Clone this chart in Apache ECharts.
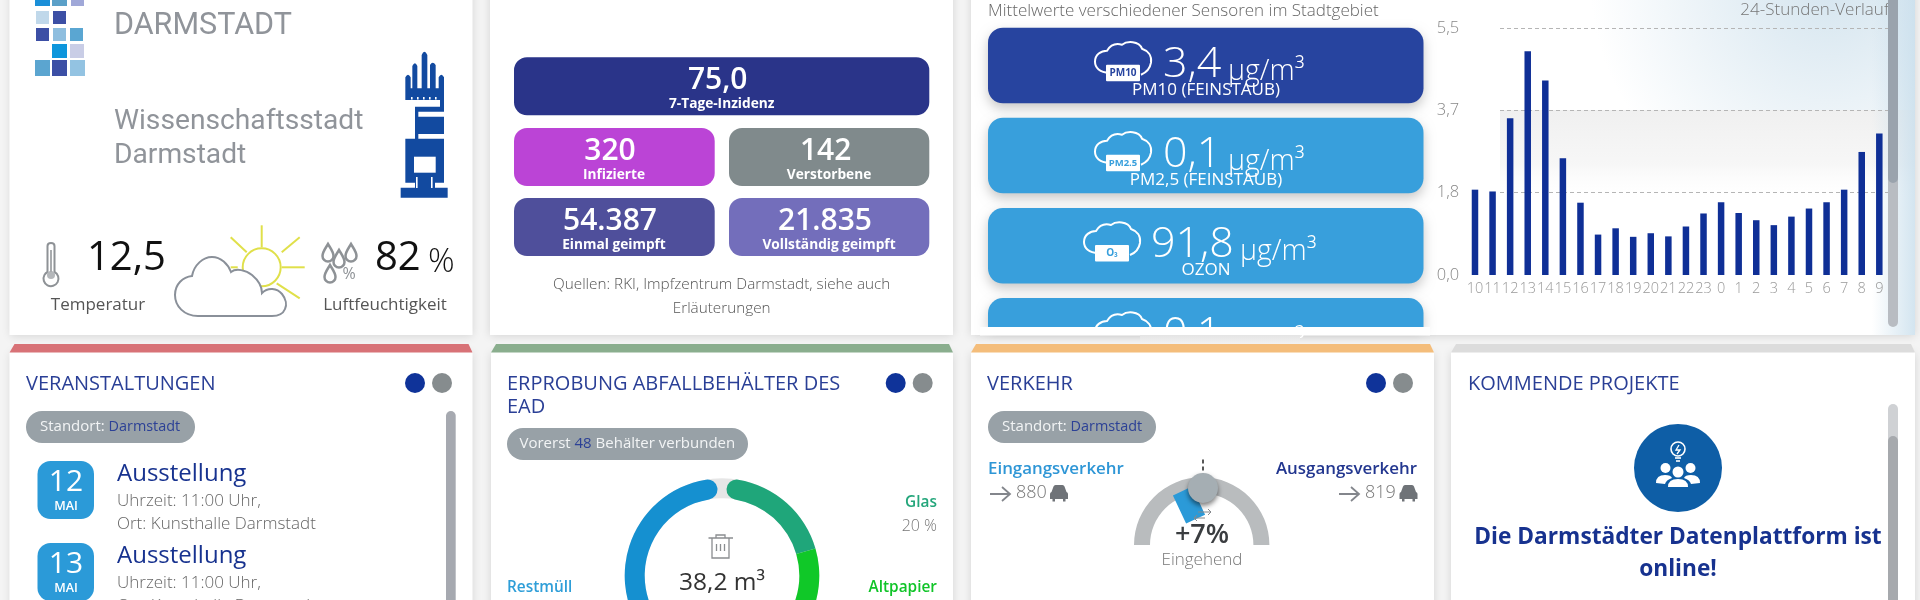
<!DOCTYPE html>
<html lang="de"><head><meta charset="utf-8"><title>Darmstadt Dashboard</title>
<style>html,body{margin:0;padding:0;background:#f4f4f4;overflow:hidden}#c{width:1920px;height:600px}</style>
<script src="https://cdn.jsdelivr.net/npm/echarts@6/dist/echarts.min.js"></script></head>
<body><div id="c"></div>
<script>
const hours = ['10','11','12','13','14','15','16','17','18','19','20','21','22','23','0','1','2','3','4','5','6','7','8','9'];
const airValues = [1.9,1.86,3.49,4.98,4.33,2.6,1.61,0.9,1.04,0.85,0.93,0.86,1.08,1.37,1.62,1.38,1.22,1.11,1.3,1.48,1.62,1.9,2.74,3.15];
const sensorValues = ['3,4','0,1','91,8','0,1'];
const sensorNames = ['PM10 (FEINSTAUB)','PM2,5 (FEINSTAUB)','OZON',''];
const sensorTags = ['PM10','PM2.5','O₃',''];
const wasteNames = ['Glas','Altpapier','Restmüll'];
const wasteShares = [20,35,45];
const trafficBalance = [7];

const F = '"Open Sans"';
const g = [];
let pathCount = 0;
function T(x,y,text,size,color,o){o=o||{};g.push({type:'text',x,y,z:o.z||20,style:{text,fontSize:size,fill:color,fontFamily:o.family||F,fontWeight:o.weight||400,textAlign:o.align||'left',textVerticalAlign:'middle',rich:o.rich}});}
function R(x,y,w,h,fill,r,o){o=o||{};g.push({type:'rect',z:o.z||5,shape:{x,y,width:w,height:h,r:r||0},style:Object.assign({fill},o.style||{})});}
function P(d,o){const name='deco'+(pathCount++);echarts.graphic.registerShape(name,echarts.graphic.extendPath(d));
  g.push({type:name,z:o.z||10,x:o.x||0,y:o.y||0,scaleX:o.s||1,scaleY:o.s||1,style:{fill:o.fill||'none',stroke:o.stroke||'none',lineWidth:o.lw||0}});}
function C(cx,cy,r,fill,o){o=o||{};g.push({type:'circle',z:o.z||10,shape:{cx,cy,r},style:Object.assign({fill},o.style||{})});}
function L(x1,y1,x2,y2,stroke,lw,o){o=o||{};g.push({type:'line',z:o.z||10,shape:{x1,y1,x2,y2},style:{stroke,lineWidth:lw,lineDash:o.dash}});}
function card(x,y,w,h){R(x,y,w,h,'#fff',0,{z:1,style:{shadowBlur:9,shadowColor:'rgba(0,0,0,0.13)',shadowOffsetX:0,shadowOffsetY:1}});}
function strip(x,w,color){g.push({type:'polygon',z:12,shape:{points:[[x+5,344],[x+w-4,344],[x+w,352.5],[x,352.5]]},style:{fill:color}});}
function header(x,text){T(x,384,text,20,'#2a3f96');}
function dots(a,b){C(a,383,10,'#0f3399');C(b,383,10,'#868c8e');}
function badge(x,y,w,a,b,c,fs,fb,dx){fs=fs||15;fb=fb||14.4;dx=dx===undefined?14:dx;R(x,y,w,32,'#98a1a7',16);
  T(x+dx,y+16,'{a|'+a+'}{b|'+b+'}'+(c?'{a|'+c+'}':''),fs,'#fff',{rich:{a:{fill:'#f2f4f5',fontSize:fs,fontFamily:F},b:{fill:'#2c4196',fontSize:fb,fontFamily:F}}});}

/* cards */
card(9.5,-20,463,355);card(490,-20,463,355);card(971,-20,944,355);
card(9.5,352,463,270);card(491,352,462,270);card(971,352,463,270);card(1451,352,464,270);
strip(9.5,463,'#d87277');strip(491,462,'#8aae8e');strip(971,463,'#f4bd7b');strip(1451,464,'#dcdcdc');

/* soft background of the air quality chart */
const rad=(x,y,r,c,a)=>({type:'radial',x,y,r,global:true,colorStops:[{offset:0,color:c},{offset:1,color:a}]});
R(1500,110,415,90,'#eeeeee',0,{z:2,style:{fill:{type:'linear',x:0,y:0,x2:0,y2:1,colorStops:[{offset:0,color:'rgba(236,236,236,0.8)'},{offset:0.6,color:'rgba(243,243,243,0.7)'},{offset:1,color:'rgba(255,255,255,0)'}]}}});
R(1560,0,355,110,'#fff',0,{z:2,style:{fill:rad(1830,-20,240,'rgba(205,224,236,0.85)','rgba(205,224,236,0)')}});
R(1872,0,43,335,'#fff',0,{z:2,style:{fill:{type:'linear',x:0,y:0,x2:1,y2:0,colorStops:[{offset:0,color:'rgba(200,222,236,0)'},{offset:1,color:'rgba(200,222,236,0.8)'}]}}});

/* card 1 */
const squares=[[35,-8,15,14,'#1a8fd8'],[52,-8,15,14,'#5ba0c8'],[71,-8,13,14,'#a0a8d8'],[36,11,13,13,'#c0d8ea'],[53,11,13,13,'#3c4fa5'],[36,28,13,13,'#3c4fa5'],[53,28,13,13,'#8ebedf'],[70,28,13,13,'#5aa6d2'],[52,44,15,14,'#0d96dc'],[70,44,14,14,'#c9cde6'],[35,60,15,16,'#5ba5d0'],[52,60,15,16,'#3c4fa5'],[70,60,15,16,'#93c3e2']];
squares.forEach(s=>R(s[0],s[1],s[2],s[3],s[4]));
T(114,-10,'DIGITALSTADT',31,'#90949a',{family:'Roboto'});
T(114,26,'DARMSTADT',30.5,'#90949a',{family:'Roboto'});
T(114,122,'Wissenschaftsstadt',28.2,'#90949a',{family:'Roboto'});
T(114,156,'Darmstadt',28.2,'#90949a',{family:'Roboto'});
P('M1216 300V232Q1224 216 1232 232V265H1237V198Q1245 182 1252 198V265H1265V165Q1273 145 1282 165V265H1290V195Q1298 182 1307 195V265H1316V232Q1324 216 1332 232V335H1255V350H1332V402H1255V416H1332V548H1305V563H1343V593H1202V563H1245V548H1216V416H1245V320H1320V300Z',{s:1/3,fill:'#124aa0'});
R(414,156.7,21.7,16,'#fff',0,{z:11});
R(416,177,1.6,11,'#fff',0,{z:11});R(431,177,1.6,11,'#fff',0,{z:11});
[0,1,2,3,4].forEach(i=>R(411+i*6,97,1.6,2.5,'#fff',0,{z:11}));
/* thermometer */
P('M47.5 272V246Q47.5 243 51 243T54.5 246V272A7.5 7.5 0 1 1 47.5 272Z',{fill:'#fff',stroke:'#8e9296',lw:2});
C(51,275,4,'#b4b7ba',{z:11});L(51,250,51,272,'#a8abae',2,{z:11});
T(87,259,'12,5',40,'#111');
T(98,305,'Temperatur',17,'#555',{align:'center'});
/* sun and cloud */
[[0,-42,0,-20],[20,-15,38,-30],[20,0,43,0],[15,16,38,31],[-15,-15,-31,-30],[-31,0,-24,0]].forEach(a=>L(261.7+a[0],267.3+a[1],261.7+a[2],267.3+a[3],'#e0e04a',2));
C(261.7,267.3,19,'#fff',{style:{stroke:'#e0e04a',lineWidth:2}});
P('M198 316C184 316 175 306 175 295C175 284 183 277 192 276C194 265 203 257 212 257C221 257 228 264 231 272C236 268 246 270 252 275C258 280 262 286 262 293C268 287 277 288 282 294C286 299 287 305 285 309C283 314 278 316 272 316Z',{fill:'#fff',stroke:'#8a9099',lw:2,z:12});
/* humidity */
[[328,253],[339,259],[351,253],[330,274]].forEach(d=>P('M0 -9C3 -4 5.5 -1 5.5 3A5.5 5.5 0 0 1 -5.5 3C-5.5 -1 -3 -4 0 -9Z',{x:d[0],y:d[1],fill:'#fff',stroke:'#8e9296',lw:2.5}));
T(349,274,'%',16,'#8e9296',{align:'center'});
T(375,259,'82',40,'#111');
T(428,263,'%',33,'#111',{weight:300});
T(385,305,'Luftfeuchtigkeit',17,'#555',{align:'center'});

/* card 2 */
const tiles=[[514,57.3,415.3,'#2a3489','75,0','7-Tage-Inzidenz',717.7,721.7],[514,128,200.7,'#bb44d6','320','Infizierte',610,614],[729,128,200.3,'#808a8c','142','Verstorbene',825.7,829],[514,198,200.7,'#4f4f9b','54.387','Einmal geimpft',610,614],[729,198,200.3,'#736ebb','21.835','Vollständig geimpft',825,829]];
tiles.forEach(t=>{R(t[0],t[1],t[2],58,t[3],13);T(t[6],t[1]+23,t[4],30,'#fff',{weight:600,align:'center'});T(t[7],t[1]+47,t[5],13.7,'#fff',{weight:700,align:'center'});});
T(721.7,285,'Quellen: RKI, Impfzentrum Darmstadt, siehe auch',15.3,'#555',{weight:300,align:'center'});
T(721.7,309,'Erläuterungen',15.3,'#555',{weight:300,align:'center'});

/* card 3 sensors */
T(988,11,'Mittelwerte verschiedener Sensoren im Stadtgebiet',17,'#666',{weight:300});
const boxTops=[27.7,117.7,208,298], boxColors=['#27449f','#389fdc','#389fdc','#389fdc'], cloudX=[1095,1095,1084,1095], valX=[1163,1163,1151,1163], unitX=[1228,1228,1240,1228];
boxTops.forEach((y,i)=>{
  const last=i===3;
  R(988,y,435.5,last?29:75.6,boxColors[i],last?[15,15,0,0]:15,{z:5,style:{shadowBlur:12,shadowOffsetY:5,shadowColor:'rgba(0,0,0,0.22)'}});
  P(last?'M0 20C0 13 6 9 12 9C15 4 20 1 27 3C32 -1 44 -1 47 7C53 9 57 14 56 21':'M14 31C5 31 0 26 0 20C0 13 6 9 12 9C15 4 20 1 27 3C32 -1 44 -1 47 7C53 9 57 14 56 21C55 27 51 31 46 33',{x:cloudX[i],y:y+14,stroke:'#fff',lw:2,z:6});
  if(!last){
    R(cloudX[i]+11,y+37,34,16.5,'#fff',1,{z:7});
    T(cloudX[i]+28,y+45.5,sensorTags[i],i==1?9.5:10,boxColors[i],{weight:700,align:'center',z:8});
    T(1206,y+62,sensorNames[i],17,'#fff',{align:'center',z:8});
  }
  T(valX[i],y+37,sensorValues[i],43,'#fff',{weight:300,z:8});
  T(unitX[i],y+44,'µg/m³',28.5,'#fff',{weight:300,z:8});
});
/* the sensor list scrolls: hide what lies below its lower edge */
R(980,327,450,8.5,'#fff',0,{z:9});
R(1140,335,160,9,'#f1f1f1',0,{z:9,style:{fill:{type:'linear',x:0,y:0,x2:0,y2:1,colorStops:[{offset:0,color:'#e4e4e4'},{offset:1,color:'#f2f2f2'}]}}});
R(1140,352.5,160,8,'#fff',0,{z:9});
T(1889,10,'24-Stunden-Verlauf',17,'#777',{weight:300,align:'right',z:10});
R(1888,-10,10,337,'#b8bcc2',5,{z:11});R(1888,-10,10,193,'#9aa3ad',5,{z:12});

/* card: events */
header(26,'VERANSTALTUNGEN');dots(415,442);
badge(26,411,169,'Standort: ','Darmstadt');
[[461,474,501,524,'12'],[543,556,583,606,'13']].forEach(e=>{
  R(37.5,e[0],56.5,58,'#2b9ad8',13);
  T(66,e[0]+21,e[4],30,'#fff',{align:'center'});
  T(66,e[0]+45,'MAI',12.5,'#fff',{align:'center',weight:600});
  T(117,e[1],'Ausstellung',24,'#17328f',{weight:500});
  T(117,e[2],'Uhrzeit: 11:00 Uhr,',17,'#666',{weight:300});
  T(117,e[3],'Ort: Kunsthalle Darmstadt',17,'#666',{weight:300});
});
R(446,411,9.7,220,'#a6a9b0',5);

/* card: waste */
header(507,'ERPROBUNG ABFALLBEHÄLTER DES');T(507,407,'EAD',20,'#2a3f96');dots(895.7,922.7);
badge(507,428,241,'Vorerst ','48',' Behälter verbunden',15,15,12.5);
T(937,503,'Glas',15.4,'#24a67b',{weight:600,align:'right'});
T(937,526,'20 %',16,'#777',{weight:300,align:'right'});
T(937,588,'Altpapier',15.4,'#10c428',{weight:600,align:'right'});
T(507,588,'Restmüll',15.4,'#2e9ed8',{weight:600});
P('M708.5 538H733M712 538V558H729V538M716 538V535H725V538M716.5 544V551M720.5 544V551M724.5 544V551',{stroke:'#8a8d90',lw:1.3,z:20});
T(722,583,'38,2 m³',24.5,'#333',{align:'center',weight:500});
T(722,605,'VOLUMEN',13,'#999',{weight:300,align:'center'});

/* card: traffic */
header(987,'VERKEHR');dots(1376,1403);
badge(988,411,168,'Standort: ','Darmstadt');
T(988,469,'Eingangsverkehr',16.9,'#2e96d6',{weight:600});
T(1417,469,'Ausgangsverkehr',16.9,'#22368f',{weight:600,align:'right'});
const arrow='M0 0H20M12 -7L20 0L12 7';
const car='M2 7L4 1.5Q4.5 0 6 0H13Q14.5 0 15 1.5L17 7Q18.5 7.5 18.5 9V14H16V16.5H13.5V14H5.5V16.5H3V14H.5V9Q.5 7.5 2 7Z';
P(arrow,{x:990,y:494,stroke:'#83868c',lw:1.8});T(1016,493,'880',18,'#777',{weight:300});P(car,{x:1049.5,y:485,fill:'#6f7378'});
P(arrow,{x:1339,y:494,stroke:'#83868c',lw:1.8});T(1365,493,'819',18,'#777',{weight:300});P(car,{x:1399,y:485,fill:'#6f7378'});
L(1203,459.5,1203,474,'#222',1.5,{dash:[4,3],z:8});
C(1203,488,15,'#a5aeb3',{z:20,style:{shadowBlur:5,shadowOffsetY:3,shadowColor:'rgba(0,0,0,0.5)'}});
P('M1198 512H1211M1208 509L1211 512L1208 515M1205 518H1194M1197 515L1194 518L1197 521',{stroke:'#85888c',lw:1,z:21});
T(1202,535,'+7%',27,'#3a3d40',{weight:600,align:'center',z:22});
T(1202,560,'Eingehend',17,'#777',{weight:300,align:'center'});

/* card: projects */
header(1468,'KOMMENDE PROJEKTE');
R(1888,404,10,230,'#cfd1d4',5);R(1888,436,10,200,'#a6a9ad',5,{z:6});
C(1678,468,44,'#0e5ea6');
C(1678,449,7,'none',{z:11,style:{stroke:'#fff',lineWidth:1.6}});
L(1675,458,1681,458,'#fff',1.6,{z:11});L(1676,461,1680,461,'#fff',1.6,{z:11});
P('M1679 445L1676 450H1680L1677 454',{stroke:'#fff',lw:1.3,z:11});
C(1665.5,468,5,'#fff',{z:11});C(1690.5,468,5,'#fff',{z:11});C(1678,472,5.5,'#fff',{z:11});
P('M1656 483Q1656 475 1665 475Q1671 475 1672 478Q1666 480 1665 484Z',{fill:'#fff',z:11});
P('M1700 483Q1700 475 1691 475Q1685 475 1684 478Q1690 480 1691 484Z',{fill:'#fff',z:11});
P('M1668 487Q1668 479 1678 479Q1688 479 1688 487Z',{fill:'#fff',z:11});
T(1678,538,'Die Darmstädter Datenplattform ist',22.7,'#17328f',{weight:700,align:'center'});
T(1678,570,'online!',22.7,'#17328f',{weight:700,align:'center'});

const chart=echarts.init(document.getElementById('c'),null,{renderer:'canvas'});
const yStep=5.5/3;
chart.setOption({
  animation:false,
  graphic:{elements:g},
  grid:[{left:1466.2,top:28,width:421.9,height:247},{left:1500,top:28,width:388,height:247}],
  xAxis:[
    {type:'category',gridIndex:0,z:3,data:hours,axisLine:{show:false},axisTick:{show:false},
     axisLabel:{interval:0,fontSize:14.5,color:'#999',fontFamily:F,fontWeight:300,margin:6,hideOverlap:false}},
    {type:'value',gridIndex:1,min:0,max:1,show:false}
  ],
  yAxis:[
    {type:'value',gridIndex:0,z:3,min:0,max:5.5,interval:yStep,splitLine:{show:false},axisLine:{show:false},axisTick:{show:false},
     axisLabel:{fontSize:16.5,color:'#888',fontFamily:F,fontWeight:300,margin:7,formatter:v=>v.toFixed(1).replace('.',',')}},
    {type:'value',gridIndex:1,z:3,min:0,max:5.5,interval:yStep,axisLine:{show:false},axisTick:{show:false},axisLabel:{show:false},
     splitLine:{show:true,showMinLine:false,lineStyle:{type:[4,3],color:'#b5b5b5',width:1}}}
  ],
  series:[
    {type:'bar',name:'PM10',xAxisIndex:0,yAxisIndex:0,data:airValues,barWidth:6.5,itemStyle:{color:'#0f2f96'},z:6},
    {type:'pie',silent:true,center:[722,575.6],radius:[77.3,97.3],startAngle:90,label:{show:false},labelLine:{show:false},data:[{value:1,itemStyle:{color:'#e6e6e6'}}],z:3},
    {type:'pie',silent:true,center:[722,575.6],radius:[77.3,97.3],startAngle:87,endAngle:-267,clockwise:true,label:{show:false},labelLine:{show:false},
     data:wasteNames.map((n,i)=>({name:n,value:wasteShares[i],itemStyle:{color:['#1fa67a','#10c828','#1590d0'][i],borderRadius:[[10,0,10,0],0,[0,10,0,10]][i]}})),z:4},
    {type:'gauge',silent:true,center:[1201.7,545],radius:67.7,startAngle:0,endAngle:180,clockwise:false,min:-25,max:25,
     axisLine:{lineStyle:{width:16,color:[[1,'#b9bcbe']]}},splitLine:{show:false},axisTick:{show:false},axisLabel:{show:false},detail:{show:false},title:{show:false},anchor:{show:false},
     progress:{show:false},
     pointer:{icon:'path://M-16 0L16 0L16 0ZM-5 -57H16V-26H-5Z',length:57,width:32,itemStyle:{color:'#2b9ad8'}},
     data:trafficBalance,z:6}
  ]
});
</script></body></html>
